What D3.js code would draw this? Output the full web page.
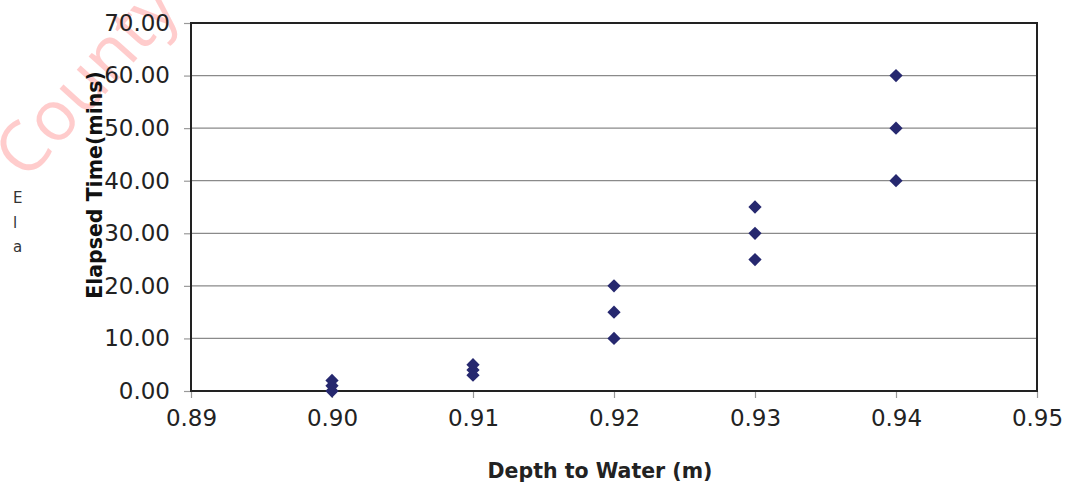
<!DOCTYPE html>
<html>
<head>
<meta charset="utf-8">
<script src="https://cdn.jsdelivr.net/npm/d3@7"></script>
<style>
  html, body { margin: 0; padding: 0; background: #fff; }
  svg { display: block; }
</style>
</head>
<body>
<svg id="chart" width="1066" height="484"></svg>
<script>
// Data
const depth   = [0.90, 0.90, 0.90, 0.91, 0.91, 0.91, 0.92, 0.92, 0.92, 0.93, 0.93, 0.93, 0.94, 0.94, 0.94];
const elapsed = [0, 1, 2, 3, 4, 5, 10, 15, 20, 25, 30, 35, 40, 50, 60];
const xTicks = [0.89, 0.90, 0.91, 0.92, 0.93, 0.94, 0.95];
const yTicks = [0, 10, 20, 30, 40, 50, 60, 70];
const xTitle = "Depth to Water (m)";
const yTitle = "Elapsed Time(mins)";
const sideLetters = ["E", "l", "a"];
const watermark = "County";

const svg = d3.select("#chart");
const mLeft = 191, mRight = 1037, mTop = 23, mBottom = 391;

const x = d3.scaleLinear().domain([0.89, 0.95]).range([mLeft, mRight]);
const y = d3.scaleLinear().domain([0, 70]).range([mBottom, mTop]);

const font = "'DejaVu Sans', sans-serif";

// Watermark
svg.append("text")
  .attr("transform", "translate(26,182) rotate(-48)")
  .attr("font-family", "'Open Sans', 'DejaVu Sans', sans-serif")
  .attr("font-size", 70)
  .attr("fill", "#ffcccc")
  .text(watermark);

// Gridlines
svg.append("g")
  .selectAll("line")
  .data(yTicks.filter(d => d > 0 && d < 70))
  .join("line")
  .attr("x1", mLeft).attr("x2", mRight)
  .attr("y1", d => y(d)).attr("y2", d => y(d))
  .attr("stroke", "#8a8a8a").attr("stroke-width", 1.2);

// Y axis
const yAxis = svg.append("g")
  .attr("transform", `translate(${mLeft},0)`)
  .call(d3.axisLeft(y).tickValues(yTicks).tickFormat(d3.format(".2f")).tickSize(7).tickPadding(14));
yAxis.select(".domain").remove();
yAxis.selectAll(".tick line").attr("stroke", "#999").attr("stroke-width", 1.2);
yAxis.selectAll(".tick text")
  .attr("font-family", font).attr("font-size", 23).attr("fill", "#222");

// X axis
const xAxis = svg.append("g")
  .attr("transform", `translate(0,${mBottom})`)
  .call(d3.axisBottom(x).tickValues(xTicks).tickFormat(d3.format(".2f")).tickSize(7).tickPadding(12));
xAxis.select(".domain").remove();
xAxis.selectAll(".tick line").attr("stroke", "#999").attr("stroke-width", 1.2);
xAxis.selectAll(".tick text")
  .attr("font-family", font).attr("font-size", 23).attr("fill", "#222");

// Plot frame
svg.append("rect")
  .attr("x", mLeft).attr("y", mTop)
  .attr("width", mRight - mLeft).attr("height", mBottom - mTop)
  .attr("fill", "none").attr("stroke", "#222").attr("stroke-width", 2);

// Points (diamonds)
const diamond = d3.symbol().type(d3.symbolSquare).size(88);
svg.append("g")
  .selectAll("path")
  .data(depth.map((d, i) => [d, elapsed[i]]))
  .join("path")
  .attr("d", diamond)
  .attr("transform", d => `translate(${x(d[0])},${y(d[1])}) rotate(45)`)
  .attr("fill", "#26286f");

// Axis titles
svg.append("text")
  .attr("x", 600).attr("y", 478)
  .attr("text-anchor", "middle")
  .attr("font-family", font).attr("font-size", 20.5).attr("font-weight", "bold")
  .attr("fill", "#222")
  .text(xTitle);

svg.append("text")
  .attr("transform", "translate(102,185) rotate(-90)")
  .attr("text-anchor", "middle")
  .attr("font-family", font).attr("font-size", 20.5).attr("font-weight", "bold")
  .attr("fill", "#111")
  .text(yTitle);

// Stray side letters
svg.append("g")
  .selectAll("text")
  .data(sideLetters)
  .join("text")
  .attr("x", 13).attr("y", (d, i) => 203 + i * 24.5)
  .attr("font-family", font).attr("font-size", 15).attr("fill", "#333")
  .text(d => d);
</script>
</body>
</html>
